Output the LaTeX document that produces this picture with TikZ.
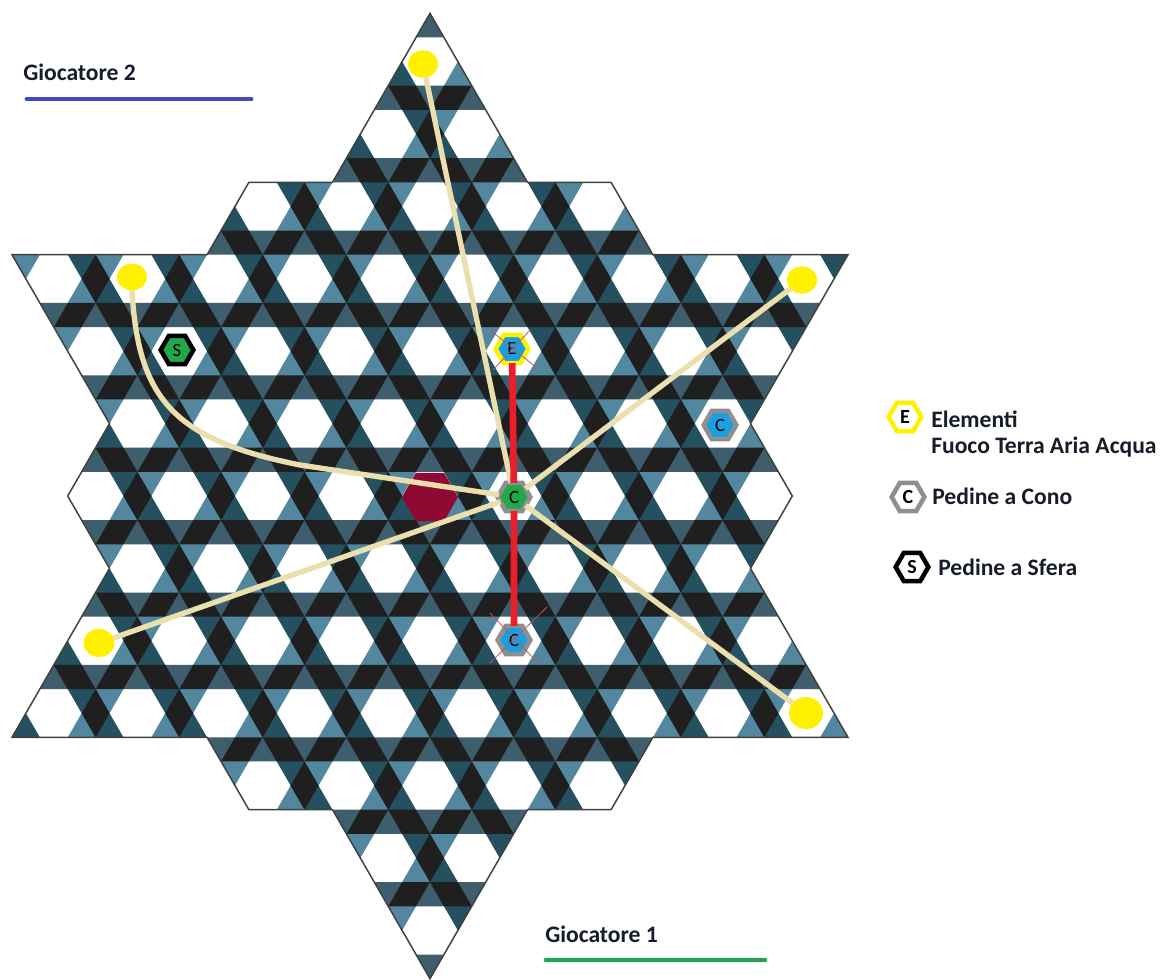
\documentclass[tikz,border=0pt]{standalone}
\usepackage{fontspec}
\setmainfont{Carlito}
\usetikzlibrary{shapes.geometric}
\definecolor{hband}{HTML}{3E5E6D}
\definecolor{bslash}{HTML}{24505F}
\definecolor{fslash}{HTML}{52879F}
\definecolor{cross}{HTML}{1F1F1F}
\definecolor{beige}{HTML}{EBDFAE}
\definecolor{pieceblue}{HTML}{1A9FE0}
\definecolor{piecegreen}{HTML}{22A84A}
\definecolor{rook}{HTML}{8F8F8F}
\definecolor{ink}{HTML}{161C28}
\definecolor{maroon}{HTML}{8F0A32}
\definecolor{yel}{HTML}{FFF000}
\definecolor{movered}{HTML}{E8202C}
\definecolor{xred}{HTML}{C8505A}
\definecolor{ruleblue}{HTML}{3F48CC}
\def\A{83.6}
\def\R{72.4}
\def\StarPath{(0,-482.7) -- (97.5,-313.7) -- (181.1,-313.7) -- (222.9,-241.3) -- (418,-241.3) -- (320.5,-72.4) -- (362.3,0)
 -- (320.5,72.4) -- (418,241.3) -- (222.9,241.3) -- (181.1,313.7) -- (97.5,313.7) -- (0,482.7)
 -- (-97.5,313.7) -- (-181.1,313.7) -- (-222.9,241.3) -- (-418,241.3) -- (-320.5,72.4) -- (-362.3,0)
 -- (-320.5,-72.4) -- (-418,-241.3) -- (-222.9,-241.3) -- (-181.1,-313.7) -- (-97.5,-313.7) -- cycle}
\def\Strips{\foreach \k in {-9,...,8} {
   (-800,{(\k+0.5)*\R-\R/6}) -- (800,{(\k+0.5)*\R-\R/6}) -- (800,{(\k+0.5)*\R+\R/6}) -- (-800,{(\k+0.5)*\R+\R/6}) -- cycle}}
\tikzset{
  x=0.75pt,y=-0.75pt,
  piece/.style={regular polygon,regular polygon sides=6,minimum size=24.5pt,inner sep=0pt,outer sep=0pt,line width=3.4pt,font=\fontsize{14pt}{14pt}\selectfont,text=black},
  bluefill/.style={fill=pieceblue},
  greenfill/.style={fill=piecegreen},
  blackrim/.style={draw=black},
  greyrim/.style={draw=rook},
  yelrim/.style={draw=yel},
  goal/.style={ellipse,fill=yel,inner sep=0pt,outer sep=0pt},
  route/.style={draw=beige,line width=4pt},
  move/.style={draw=movered,line width=5pt},
  crossout/.style={draw=xred,line width=0.6pt},
  label/.style={anchor=west,inner sep=0pt,text=ink,font=\fontsize{17.7pt}{19pt}\selectfont\bfseries},
  legendhex/.style={piece,fill=white,font=\fontsize{15pt}{15pt}\selectfont\bfseries},
  rule/.style={line width=3.7pt,line cap=round}
}
\begin{document}
\begin{tikzpicture}
\useasboundingbox (0,0) rectangle (1163,979);
\fill[white] (0,0) rectangle (1163,979);
\begin{scope}[shift={(430,496)}]
  \begin{scope}
    \clip \StarPath;
    \path[fill=hband] \Strips;
    \path[fill=fslash,rotate=60] \Strips;
    \path[fill=bslash,rotate=-60] \Strips;
    \begin{scope}
      \path[clip] \Strips;
      \path[fill=cross,rotate=60] \Strips;
      \path[fill=cross,rotate=-60] \Strips;
    \end{scope}
    \begin{scope}[rotate=60]
      \path[clip] \Strips;
      \path[fill=cross,rotate=-120] \Strips;
    \end{scope}
  \end{scope}
  \draw[line width=1.1pt,draw=black!75] \StarPath;
\end{scope}
% target hexagon and pieces
\node[regular polygon,regular polygon sides=6,minimum size=42pt,inner sep=0pt,fill=maroon] (target) at (430,497) {};
\node[piece,blackrim,greenfill] (sfera) at (177,350) {S};
\node[piece,yelrim,bluefill] (elem) at (512,349) {E};
\node[piece,greyrim,greenfill] (centre) at (514,497) {C};
\node[piece,greyrim,bluefill] (low) at (514,640) {C};
\node[piece,greyrim,bluefill] (right) at (720,425) {C};
% goals
\node[goal,minimum width=22.5pt,minimum height=20.5pt] (gN) at (423,64) {};
\node[goal,minimum width=22.5pt,minimum height=20pt] (gW) at (132,277) {};
\node[goal,minimum width=22.5pt,minimum height=20.5pt] (gE) at (802,280) {};
\node[goal,minimum width=23pt,minimum height=21pt] (gSW) at (99,643) {};
\node[goal,minimum width=25.5pt,minimum height=24pt] (gSE) at (806,713) {};
\coordinate (bendA) at (138,400);
\coordinate (bendB) at (175,440);
\coordinate (bendC) at (300,465);
% routes
\draw[route] (gN) -- (centre);
\draw[route] (gE) -- (centre);
\draw[route] (gSW) -- (centre);
\draw[route] (gSE) -- (centre);
\draw[route] (gW.south) .. controls (bendA) and (bendB) .. (bendC) -- (centre);
\draw[move] (elem) -- (centre);
\draw[move] (centre) -- (low);
% crossing marks
\coordinate (e1) at (490,330); \coordinate (e2) at (537,368);
\coordinate (e3) at (530,330); \coordinate (e4) at (493,370);
\coordinate (c1) at (490,613); \coordinate (c2) at (540,665);
\coordinate (c3) at (547,607); \coordinate (c4) at (490,663);
\draw[crossout] (e1) -- (e2);
\draw[crossout] (e3) -- (e4);
\draw[crossout] (c1) -- (c2);
\draw[crossout] (c3) -- (c4);
% legend
\node[legendhex,yelrim] (lE) at (905,417) {E};
\node[legendhex,greyrim] (lC) at (908,497) {C};
\node[legendhex,blackrim] (lS) at (912,567) {S};
\node[label] (tE) at (931,419) {Elementi};
\node[label] (tF) at (931,447) {Fuoco Terra Aria Acqua};
\node[label] (tC) at (932,496) {Pedine a Cono};
\node[label] (tS) at (938,567) {Pedine a Sfera};
% players
\node[label] (p2) at (23,72) {Giocatore 2};
\node[label] (p1) at (545,934) {Giocatore 1};
\coordinate (p2a) at (27,99); \coordinate (p2b) at (251,99);
\coordinate (p1a) at (546,960); \coordinate (p1b) at (765,960);
\draw[rule,draw=ruleblue] (p2a) -- (p2b);
\draw[rule,draw=piecegreen] (p1a) -- (p1b);
\end{tikzpicture}
\end{document}
